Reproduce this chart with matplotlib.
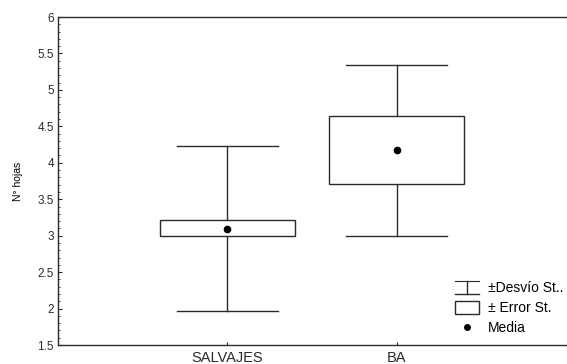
import matplotlib
matplotlib.use("Agg")
import matplotlib.pyplot as plt
from matplotlib.patches import Rectangle
from matplotlib.lines import Line2D
from matplotlib.legend_handler import HandlerBase

categories = ["SALVAJES", "BA"]
means = [3.09, 4.17]
se_low = [2.995, 3.705]
se_high = [3.215, 4.642]
sd_low = [1.963, 2.996]
sd_high = [4.23, 5.337]
legend_labels = ["±Desvío St..", "± Error St.", "Media"]

plt.rcParams['font.family'] = ['Liberation Sans', 'DejaVu Sans']
fig = plt.figure(figsize=(5.67, 3.64), dpi=100)
ax = fig.add_axes([58/567, 19/364, 508/567, 328/364])

col = '#2a2a2a'
lw = 1.0
box_w = 0.8
cap_w = 0.6
pos = [1, 2]
for x, m, lo, hi, slo, shi in zip(pos, means, se_low, se_high, sd_low, sd_high):
    ax.plot([x, x], [shi, hi], color=col, lw=lw)
    ax.plot([x, x], [slo, lo], color=col, lw=lw)
    ax.plot([x - cap_w/2, x + cap_w/2], [shi, shi], color=col, lw=lw)
    ax.plot([x - cap_w/2, x + cap_w/2], [slo, slo], color=col, lw=lw)
    ax.add_patch(Rectangle((x - box_w/2, lo), box_w, hi - lo, facecolor='white', edgecolor=col, lw=lw, zorder=2))
    ax.plot([x], [m], 'o', color='black', ms=4.5, zorder=3)

ax.set_xlim(0, 3)
ax.set_ylim(1.5, 6)
ax.set_xticks(pos)
ax.set_xticklabels(categories)
ax.set_yticks([1.5, 2, 2.5, 3, 3.5, 4, 4.5, 5, 5.5, 6])
ax.set_yticklabels(['1.5', '2', '2.5', '3', '3.5', '4', '4.5', '5', '5.5', '6'])
ax.set_yticks([v/10 for v in range(15, 61)], minor=True)
ax.tick_params(axis='both', which='major', direction='in', length=3, width=0.8, colors=col)
ax.tick_params(axis='y', which='major', labelsize=8.5, pad=3)
ax.tick_params(axis='x', which='major', labelsize=10.5, length=2, pad=4)
ax.tick_params(axis='y', which='minor', direction='in', length=1.5, width=0.6, colors=col)
ax.set_ylabel("N° hojas", fontsize=7.5, labelpad=10)
for s in ['left', 'top', 'bottom']:
    ax.spines[s].set_color(col)
    ax.spines[s].set_linewidth(1.0)
ax.spines['right'].set_visible(False)


class WhiskerHandler(HandlerBase):
    def create_artists(self, legend, orig_handle, xdescent, ydescent, width, height, fontsize, trans):
        y0 = -ydescent - 1
        y1 = height - ydescent + 1
        xm = width / 2 - xdescent
        arts = [
            Line2D([-xdescent, width - xdescent], [y1, y1], color=col, lw=0.8),
            Line2D([-xdescent, width - xdescent], [y0, y0], color=col, lw=1.0),
            Line2D([xm, xm], [y0, y1], color=col, lw=1.0),
        ]
        for a in arts:
            a.set_transform(trans)
        return arts


class BoxHandler(HandlerBase):
    def create_artists(self, legend, orig_handle, xdescent, ydescent, width, height, fontsize, trans):
        r = Rectangle((-xdescent, -ydescent - 1), width, height + 2, facecolor='white', edgecolor=col, lw=1.0, transform=trans)
        return [r]


wh = Line2D([], [])
bx = Rectangle((0, 0), 1, 1)
dot = Line2D([], [], marker='o', color='black', ls='none', ms=4)
leg = ax.legend([wh, bx, dot], legend_labels,
                handler_map={wh: WhiskerHandler(), bx: BoxHandler()},
                loc='upper left', bbox_to_anchor=(0.781, 0.194), frameon=False,
                fontsize=10, handlelength=1.73, handletextpad=0.65, labelspacing=0.42,
                borderpad=0, borderaxespad=0)

fig.savefig("out.png", dpi=100)
